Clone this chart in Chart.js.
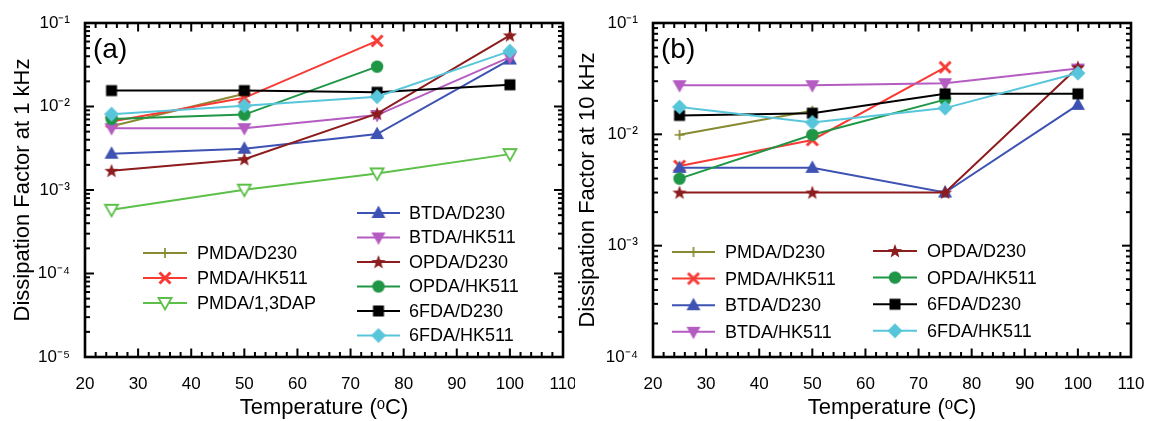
<!DOCTYPE html>
<html><head><meta charset="utf-8">
<script src="https://cdn.jsdelivr.net/npm/chart.js@4.4.1/dist/chart.umd.min.js"></script>
<style>
html,body{margin:0;padding:0;background:#fff;}
#wrap{position:relative;width:1149px;height:421px;overflow:hidden;background:#fff;}
#ca{position:absolute;left:0;top:0;}
#cb{position:absolute;left:575px;top:0;}
</style></head><body>
<div id="wrap"><canvas id="ca" width="575" height="421"></canvas><canvas id="cb" width="574" height="421"></canvas></div>
<script>
// ---------------- data ----------------
const temperatures = [25, 50, 75, 100];
const xTickLabels = [20, 30, 40, 50, 60, 70, 80, 90, 100, 110];
const yTickLabels1k = ['10⁻⁵', '10⁻⁴', '10⁻³', '10⁻²', '10⁻¹'];
const yTickLabels10k = ['10⁻⁴', '10⁻³', '10⁻²', '10⁻¹'];

const seriesNames1k = ['PMDA/D230', 'PMDA/HK511', 'PMDA/1,3DAP', 'BTDA/D230', 'BTDA/HK511', 'OPDA/D230', 'OPDA/HK511', '6FDA/D230', '6FDA/HK511'];
const PMDA_D230_1k   = [0.0058, 0.0142];
const PMDA_HK511_1k  = [0.0066, 0.0127, 0.061];
const PMDA_13DAP_1k  = [0.00058, 0.00101, 0.00158, 0.00269];
const BTDA_D230_1k   = [0.00272, 0.00312, 0.00468, 0.0365];
const BTDA_HK511_1k  = [0.0055, 0.0055, 0.0079, 0.039];
const OPDA_D230_1k   = [0.0017, 0.00234, 0.0082, 0.071];
const OPDA_HK511_1k  = [0.0071, 0.0080, 0.030];
const FDA_D230_1k    = [0.0155, 0.0155, 0.0148, 0.0182];
const FDA_HK511_1k   = [0.0081, 0.0102, 0.0131, 0.046];

const seriesNames10k = ['PMDA/D230', 'PMDA/HK511', 'BTDA/D230', 'BTDA/HK511', 'OPDA/D230', 'OPDA/HK511', '6FDA/D230', '6FDA/HK511'];
const PMDA_D230_10k  = [0.0099, 0.0163];
const PMDA_HK511_10k = [0.0052, 0.0089, 0.040];
const BTDA_D230_10k  = [0.0050, 0.0050, 0.0030, 0.0184];
const BTDA_HK511_10k = [0.0276, 0.0276, 0.0288, 0.039];
const OPDA_D230_10k  = [0.0030, 0.0030, 0.0030, 0.040];
const OPDA_HK511_10k = [0.0040, 0.0099, 0.0205];
const FDA_D230_10k   = [0.0148, 0.0155, 0.0231, 0.0231];
const FDA_HK511_10k  = [0.0176, 0.0128, 0.0172, 0.0355];

// ---------------- styles ----------------
const STYLE = {
  'PMDA/D230':   {color: '#888a32', marker: 'plus'},
  'PMDA/HK511':  {color: '#f83a34', marker: 'cross'},
  'PMDA/1,3DAP': {color: '#5cc048', marker: 'triDownOpen'},
  'BTDA/D230':   {color: '#3d52b2', marker: 'triUp'},
  'BTDA/HK511':  {color: '#b55cc2', marker: 'triDown'},
  'OPDA/D230':   {color: '#8c1c1e', marker: 'star'},
  'OPDA/HK511':  {color: '#1f9646', marker: 'circle'},
  '6FDA/D230':   {color: '#000000', marker: 'square'},
  '6FDA/HK511':  {color: '#58c6da', marker: 'diamond'}
};

function makeMarker(kind, color) {
  const c = document.createElement('canvas');
  c.width = 20; c.height = 20;
  const g = c.getContext('2d');
  g.translate(10, 10);
  g.fillStyle = color; g.strokeStyle = color;
  const poly = (pts) => { g.beginPath(); pts.forEach((p, i) => i ? g.lineTo(p[0], p[1]) : g.moveTo(p[0], p[1])); g.closePath(); };
  switch (kind) {
    case 'plus':
      g.lineWidth = 1.7; g.beginPath(); g.moveTo(-5, 0); g.lineTo(5, 0); g.moveTo(0, -5); g.lineTo(0, 5); g.stroke(); break;
    case 'cross':
      g.lineWidth = 3; g.lineCap = 'butt'; g.beginPath(); g.moveTo(-5.5, -5.5); g.lineTo(5.5, 5.5); g.moveTo(5.5, -5.5); g.lineTo(-5.5, 5.5); g.stroke(); break;
    case 'triUp':
      poly([[0, -7.5], [7, 5], [-7, 5]]); g.fill(); break;
    case 'triDown':
      poly([[0, 7.5], [7, -5], [-7, -5]]); g.fill(); break;
    case 'triDownOpen':
      poly([[0, 6.5], [6.5, -5], [-6.5, -5]]); g.fillStyle = '#fff'; g.fill(); g.lineWidth = 1.8; g.stroke(); break;
    case 'star': {
      const pts = [];
      for (let k = 0; k < 10; k++) {
        const r = k % 2 ? 3.1 : 7.5;
        const a = -Math.PI / 2 + k * Math.PI / 5;
        pts.push([r * Math.cos(a), r * Math.sin(a) + 0.5]);
      }
      poly(pts); g.fill(); break;
    }
    case 'circle':
      g.beginPath(); g.arc(0, 0, 6.2, 0, Math.PI * 2); g.fill(); break;
    case 'square':
      g.fillRect(-5.5, -5.5, 11, 11); break;
    case 'diamond':
      poly([[0, -7.5], [7.5, 0], [0, 7.5], [-7.5, 0]]); g.fill(); break;
  }
  return c;
}

function buildDatasets(names, valueLists) {
  return names.map((name, i) => {
    const st = STYLE[name];
    const vals = valueLists[i];
    return {
      label: name,
      data: vals.map((v, j) => ({x: temperatures[j], y: v})),
      borderColor: st.color,
      backgroundColor: st.color,
      borderWidth: 2,
      pointStyle: makeMarker(st.marker, st.color),
      pointRadius: 7,
      pointHoverRadius: 7,
      fill: false,
      tension: 0,
      order: names.length - i
    };
  });
}

const supLabelFor = (labels, minExp) => (v) => {
  const l = Math.log10(v);
  const e = Math.round(l);
  if (Math.abs(l - e) > 1e-6) return '';
  return labels[e - minExp] || '';
};

const framePlugin = {
  id: 'frameTicks',
  afterDraw(chart, args, opts) {
    const ctx = chart.ctx, a = chart.chartArea;
    const xs = chart.scales.x, ys = chart.scales.y;
    ctx.save();
    ctx.fillStyle = '#000';
    // x ticks (inward, bottom and top)
    for (let v = 20; v <= 110; v += 2) {
      const px = xs.getPixelForValue(v);
      const len = (v % 10 === 0) ? 8.5 : 5;
      ctx.fillRect(px - 1, a.bottom - len, 2, len);
      ctx.fillRect(px - 1, a.top, 2, len);
    }
    // y ticks (inward, left and right)
    for (let e = opts.minExp; e < -1; e++) {
      for (let m = 1; m <= 9; m++) {
        const py = ys.getPixelForValue(m * Math.pow(10, e));
        const len = m === 1 ? 9 : 5;
        ctx.fillRect(a.left, py - 1, len, 2);
        ctx.fillRect(a.right - len, py - 1, len, 2);
      }
    }
    ctx.strokeStyle = '#000';
    ctx.lineWidth = 2.6;
    ctx.strokeRect(a.left, a.top, a.right - a.left, a.bottom - a.top);
    // panel label
    ctx.fillStyle = '#000';
    ctx.font = '28px "Liberation Sans", Arial, sans-serif';
    ctx.textBaseline = 'middle';
    ctx.textAlign = 'left';
    ctx.fillText(opts.panel, a.left + 8, a.top + 27);
    // legends
    ctx.font = '18px "Liberation Sans", Arial, sans-serif';
    opts.groups.forEach(gr => {
      gr.items.forEach((idx, k) => {
        const ds = chart.data.datasets[idx];
        const y = gr.y + k * gr.dy;
        ctx.strokeStyle = ds.borderColor;
        ctx.lineWidth = 2;
        ctx.beginPath(); ctx.moveTo(gr.x1, y); ctx.lineTo(gr.x2, y); ctx.stroke();
        const img = ds.pointStyle;
        ctx.drawImage(img, (gr.x1 + gr.x2) / 2 - img.width / 2, y - img.height / 2);
        ctx.fillStyle = '#000';
        ctx.fillText(ds.label, gr.tx, y + 1);
      });
    });
    ctx.restore();
  }
};

function makeChart(id, datasets, cfg) {
  const fontFam = '"Liberation Sans", Arial, sans-serif';
  return new Chart(document.getElementById(id), {
    type: 'line',
    data: {datasets},
    plugins: [framePlugin],
    options: {
      responsive: false,
      animation: false,
      events: [],
      layout: {padding: {left: cfg.padLeft, right: cfg.padRight, top: 23, bottom: 0}},
      plugins: {
        legend: {display: false},
        tooltip: {enabled: false},
        frameTicks: {panel: cfg.panel, groups: cfg.groups, minExp: cfg.minExp}
      },
      scales: {
        x: {
          type: 'linear', min: 20, max: 110,
          afterBuildTicks: (s) => { const t = []; for (let v = 20; v <= 110; v += 2) t.push({value: v}); s.ticks = t; },
          afterFit: (s) => { s.height = 64; s.paddingLeft = 0; s.paddingRight = 0; },
          grid: {display: false, drawTicks: false},
          border: {display: false},
          ticks: {
            autoSkip: false, maxRotation: 0, minRotation: 0, padding: 17,
            color: '#000', font: {family: fontFam, size: 17},
            callback: (v) => xTickLabels.includes(v) ? String(v) : ''
          },
          title: {display: true, text: 'Temperature (ᵒC)', color: '#000', padding: 0, font: {family: fontFam, size: 22}}
        },
        y: {
          type: 'logarithmic', min: Math.pow(10, cfg.minExp), max: 0.1,
          afterBuildTicks: (s) => {
            const t = [];
            for (let e = cfg.minExp; e < -1; e++) for (let m = 1; m <= 9; m++) t.push({value: m * Math.pow(10, e)});
            t.push({value: 0.1});
            s.ticks = t;
          },
          afterFit: (s) => { s.width = cfg.yWidth; s.paddingTop = 0; s.paddingBottom = 0; },
          grid: {display: false, drawTicks: false},
          border: {display: false},
          ticks: {
            autoSkip: false, padding: 15, color: '#000', font: {family: fontFam, size: 17},
            callback: supLabelFor(cfg.yLabels, cfg.minExp)
          },
          title: {display: true, text: cfg.yTitle, color: '#000', padding: 0, font: {family: fontFam, size: 22}}
        }
      }
    }
  });
}

makeChart('ca', buildDatasets(seriesNames1k, [PMDA_D230_1k, PMDA_HK511_1k, PMDA_13DAP_1k, BTDA_D230_1k, BTDA_HK511_1k, OPDA_D230_1k, OPDA_HK511_1k, FDA_D230_1k, FDA_HK511_1k]), {
  panel: '(a)', padLeft: 10, padRight: 12, yWidth: 75, minExp: -5, yLabels: yTickLabels1k,
  yTitle: 'Dissipation Factor at 1 kHz',
  groups: [
    {items: [0, 1, 2], x1: 143, x2: 187, tx: 197, y: 253, dy: 25},
    {items: [3, 4, 5, 6, 7, 8], x1: 357, x2: 400, tx: 409, y: 213, dy: 24.5}
  ]
});

makeChart('cb', buildDatasets(seriesNames10k, [PMDA_D230_10k, PMDA_HK511_10k, BTDA_D230_10k, BTDA_HK511_10k, OPDA_D230_10k, OPDA_HK511_10k, FDA_D230_10k, FDA_HK511_10k]), {
  panel: '(b)', padLeft: 0, padRight: 18, yWidth: 78, minExp: -4, yLabels: yTickLabels10k,
  yTitle: 'Dissipation Factor at 10 kHz',
  groups: [
    {items: [0, 1, 2, 3], x1: 97, x2: 140, tx: 150, y: 252, dy: 26.6},
    {items: [4, 5, 6, 7], x1: 298, x2: 342, tx: 352, y: 251, dy: 26.6}
  ]
});
</script>
</body></html>
